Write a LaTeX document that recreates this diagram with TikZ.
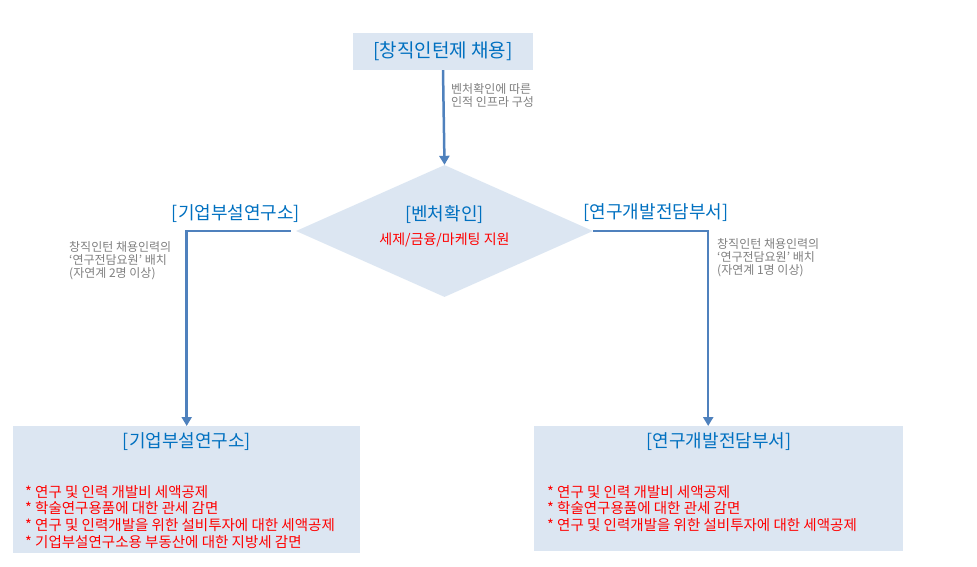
\documentclass[tikz,border=0pt]{standalone}
\usepackage{fontspec}
\setmainfont{Noto Sans CJK KR}
\usetikzlibrary{shapes.geometric,arrows.meta}

\definecolor{boxfill}{HTML}{DCE6F2}
\definecolor{flowblue}{HTML}{4F81BD}
\definecolor{headblue}{HTML}{0070C0}
\definecolor{notegray}{HTML}{7F7F7F}
\definecolor{itemred}{HTML}{FF0000}

\tikzset{
    box/.style={shape=rectangle, fill=boxfill, inner sep=0pt},
    head/.style={text=headblue, font=\fontsize{18}{21}\selectfont, inner sep=0pt},
    note/.style={text=notegray, font=\fontsize{12}{13.2}\selectfont, align=left, inner sep=0pt},
    items/.style={text=itemred, font=\fontsize{14.5}{16.7}\selectfont, align=left, inner sep=0pt},
    flow/.style={draw=flowblue, line width=2.5pt, -{Triangle[width=10pt,length=9pt]}}
}

\begin{document}
\begin{tikzpicture}[x=1pt, y=-1pt]
    \useasboundingbox (0,0) rectangle (977,567);
    % top
    \node[box, minimum width=180pt, minimum height=37pt] at (443,51.5) (hire) {};
    \node[head, font=\fontsize{19}{22}\selectfont] at (hire.center) (hiretxt) {[창직인턴제 채용]};
    \node[note, anchor=north west] at (451,83) (hirenote) {벤처확인에 따른\\인적 인프라 구성};
    % diamond
    \node[shape=diamond, fill=boxfill, minimum width=297pt, minimum height=132pt, inner sep=0pt] at (444.5,231) (venture) {};
    \node[head] at (444.5,215) (venturetxt) {[벤처확인]};
    \node[items, font=\fontsize{14}{16}\selectfont] at (444.5,239.5) (venturesub) {세제/금융/마케팅 지원};
    % side labels
    \node[head] at (236,214) (lablabel) {[기업부설연구소]};
    \node[head] at (656,213) (deptlabel) {[연구개발전담부서]};
    \node[note, anchor=north west] at (69,241) (labnote) {창직인턴 채용인력의\\‘연구전담요원’ 배치\\(자연계 2명 이상)};
    \node[note, anchor=north west] at (717,238) (deptnote) {창직인턴 채용인력의\\‘연구전담요원’ 배치\\(자연계 1명 이상)};
    % bottom boxes
    \node[box, minimum width=347pt, minimum height=127pt, anchor=north west] at (13,426) (lab) {};
    \node[head] at (187,442) (labtxt) {[기업부설연구소]};
    \node[items, anchor=north west] at (25,485) (labitems) {* 연구 및 인력 개발비 세액공제\\* 학술연구용품에 대한 관세 감면\\* 연구 및 인력개발을 위한 설비투자에 대한 세액공제\\* 기업부설연구소용 부동산에 대한 지방세 감면};
    \node[box, minimum width=369pt, minimum height=125pt, anchor=north west] at (534,426) (dept) {};
    \node[head] at (719,442) (depttxt) {[연구개발전담부서]};
    \node[items, anchor=north west] at (547,485) (deptitems) {* 연구 및 인력 개발비 세액공제\\* 학술연구용품에 대한 관세 감면\\* 연구 및 인력개발을 위한 설비투자에 대한 세액공제};
    % connectors
    \draw[flow] (hire.south) -- (venture.north);
    \draw[flow, shorten <=5pt] (venture.west) -| (lab.north);
    \draw[flow] (venture.east) -| ([xshift=-10.5pt]dept.north);
\end{tikzpicture}
\end{document}
